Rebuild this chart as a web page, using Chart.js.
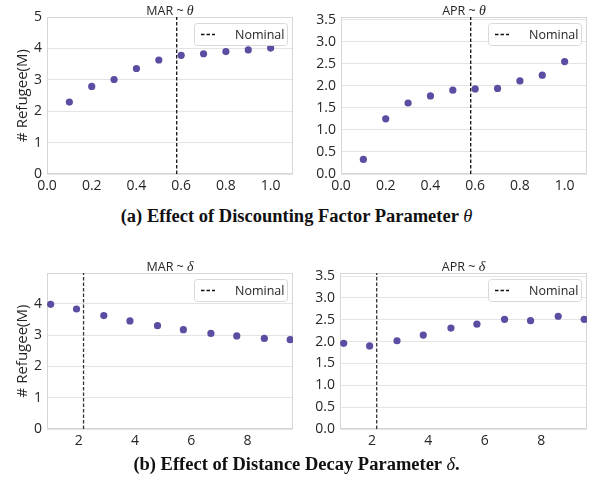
<!DOCTYPE html>
<html>
<head>
<meta charset="utf-8">
<script src="https://cdn.jsdelivr.net/npm/chart.js@4.4.1/dist/chart.umd.min.js"></script>
<style>
  html, body { margin: 0; padding: 0; background: #fff; }
  body { width: 593px; height: 485px; position: relative; overflow: hidden; }
  canvas { position: absolute; }
  .cap { position: absolute; left: 0; width: 593px; text-align: center;
         font-family: "Liberation Serif", serif; font-weight: bold; font-size: 18.5px;
         line-height: 1; color: #111; white-space: nowrap; }
  .cap i { font-weight: normal; }
</style>
</head>
<body>
<canvas id="c1"></canvas>
<canvas id="c2"></canvas>
<canvas id="c3"></canvas>
<canvas id="c4"></canvas>
<div class="cap" id="capA" style="top:207px">(a) Effect of Discounting Factor Parameter <i>θ</i></div>
<div class="cap" id="capB" style="top:455px">(b) Effect of Distance Decay Parameter <i>δ</i>.</div>
<script>
// ---- data ----
const thetaX = [0.1, 0.2, 0.3, 0.4, 0.5, 0.6, 0.7, 0.8, 0.9, 1.0];
const marTheta = [2.29, 2.79, 3.01, 3.36, 3.63, 3.78, 3.83, 3.90, 3.95, 4.01];
const aprTheta = [0.33, 1.25, 1.61, 1.77, 1.90, 1.93, 1.94, 2.11, 2.24, 2.55];
const deltaX = [1.0, 1.92, 2.89, 3.82, 4.8, 5.72, 6.7, 7.62, 8.6, 9.52];
const marDelta = [3.98, 3.83, 3.62, 3.45, 3.30, 3.17, 3.05, 2.97, 2.89, 2.85];
const aprDelta = [1.96, 1.90, 2.02, 2.15, 2.31, 2.40, 2.51, 2.48, 2.58, 2.51];
const thetaNominal = 0.58;
const deltaNominal = 2.17;

// tick values / labels
const thetaTicks = [0, 0.2, 0.4, 0.6, 0.8, 1.0];
const thetaTickLabels = ["0.0", "0.2", "0.4", "0.6", "0.8", "1.0"];
const deltaTicks = [2, 4, 6, 8];
const deltaTickLabels = ["2", "4", "6", "8"];
const marTicksA = [0, 1, 2, 3, 4, 5];
const marTickLabelsA = ["0", "1", "2", "3", "4", "5"];
const marTicksB = [0, 1, 2, 3, 4];
const marTickLabelsB = ["0", "1", "2", "3", "4"];
const aprTicks = [0, 0.5, 1.0, 1.5, 2.0, 2.5, 3.0, 3.5];
const aprTickLabels = ["0.0", "0.5", "1.0", "1.5", "2.0", "2.5", "3.0", "3.5"];

// axis limits
const thetaRange = [0, 1.1];
const deltaRange = [0.87, 9.62];
const marRangeA = [0, 5];
const aprRangeA = [0, 3.56];
const marRangeB = [0, 4.98];
const aprRangeB = [0, 3.57];

Chart.defaults.font.family = "'Open Sans', sans-serif";
Chart.defaults.color = '#262626';
Chart.defaults.animation = false;

const POINT = '#5a4ea2';
const GRID = '#e4e4e4';
const FRAME = '#d6d6d6';

const decorPlugin = {
  id: 'decor',
  beforeDatasetsDraw(chart) {
    const a = chart.chartArea, ctx = chart.ctx;
    ctx.save();
    ctx.strokeStyle = FRAME; ctx.lineWidth = 1;
    ctx.strokeRect(Math.round(a.left) + 0.5, Math.round(a.top) + 0.5,
                   Math.round(a.right - a.left) - 1, Math.round(a.bottom - a.top) - 1);
    ctx.restore();
  },
  afterDraw(chart, args, o) {
    const a = chart.chartArea, ctx = chart.ctx;
    ctx.save();
    // title
    ctx.textBaseline = 'alphabetic';
    const f1 = "12.5px 'Open Sans', sans-serif";
    const f2 = "italic 14px 'Liberation Serif', serif";
    ctx.font = f1; const w1 = ctx.measureText(o.title).width;
    ctx.font = f2; const w2 = ctx.measureText(o.sym).width;
    let x = (a.left + a.right) / 2 - (w1 + w2) / 2;
    const y = a.top - 2.5;
    ctx.fillStyle = '#262626';
    ctx.font = f1; ctx.fillText(o.title, x, y);
    ctx.font = f2; ctx.fillText(o.sym, x + w1, y);
    // legend
    const bw = 93, bh = 22;
    const bx = a.right - 6 - bw, by = a.top + 6;
    ctx.beginPath();
    if (ctx.roundRect) ctx.roundRect(bx + 0.5, by + 0.5, bw, bh, 3); else ctx.rect(bx + 0.5, by + 0.5, bw, bh);
    ctx.fillStyle = 'rgba(255,255,255,0.85)'; ctx.fill();
    ctx.strokeStyle = '#d9d9d9'; ctx.lineWidth = 1; ctx.stroke();
    ctx.beginPath();
    ctx.setLineDash([3.5, 2]);
    ctx.strokeStyle = '#111'; ctx.lineWidth = 1.3;
    ctx.moveTo(bx + 7, by + bh / 2 + 0.5); ctx.lineTo(bx + 21, by + bh / 2 + 0.5);
    ctx.stroke();
    ctx.setLineDash([]);
    ctx.fillStyle = '#262626';
    ctx.font = "12.5px 'Open Sans', sans-serif";
    ctx.textBaseline = 'middle';
    ctx.fillText('Nominal', bx + 41, by + bh / 2 + 1);
    ctx.restore();
  }
};

function makeChart(id, opts) {
  const cv = document.getElementById(id);
  cv.style.left = opts.left + 'px'; cv.style.top = opts.top + 'px';
  cv.width = opts.w; cv.height = opts.h;
  cv.style.width = opts.w + 'px'; cv.style.height = opts.h + 'px';
  const pts = opts.xs.map((x, i) => ({ x: x, y: opts.ys[i] }));
  return new Chart(cv, {
    type: 'scatter',
    data: {
      datasets: [
        { type: 'line', data: [{ x: opts.nominal, y: opts.yRange[0] }, { x: opts.nominal, y: opts.yRange[1] }],
          borderColor: opts.nomColor, borderWidth: 1.3, borderDash: [3.5, 2], pointRadius: 0, fill: false, order: 2 },
        { data: pts, backgroundColor: POINT, borderWidth: 0, pointRadius: 3.6, order: 1 }
      ]
    },
    options: {
      responsive: false,
      devicePixelRatio: 1,
      layout: { padding: { top: opts.padTop, right: opts.padRight, left: 0, bottom: 0 } },
      plugins: { legend: { display: false }, tooltip: { enabled: false },
                 decor: { title: opts.title, sym: opts.sym } },
      scales: {
        x: {
          type: 'linear', min: opts.xRange[0], max: opts.xRange[1],
          grid: { display: false, drawTicks: false },
          border: { display: false },
          afterBuildTicks: s => { s.ticks = opts.xTicks.map(v => ({ value: v })); },
          afterFit: s => { s.height = opts.xH; },
          ticks: { padding: 4, font: { size: 14 }, maxRotation: 0, autoSkip: false,
                   callback: (v, i) => opts.xLabels[i] }
        },
        y: {
          type: 'linear', min: opts.yRange[0], max: opts.yRange[1],
          grid: { color: GRID, lineWidth: 1, drawTicks: false },
          border: { display: false },
          afterBuildTicks: s => { s.ticks = opts.yTicks.map(v => ({ value: v })); },
          afterFit: s => { s.width = opts.yW; },
          ticks: { padding: 5, font: { size: 14 }, autoSkip: false,
                   callback: (v, i) => opts.yLabels[i] },
          title: { display: !!opts.yTitle, text: opts.yTitle, font: { size: 15 }, padding: { top: 14, bottom: 0 } }
        }
      }
    },
    plugins: [decorPlugin]
  });
}

makeChart('c1', { left: 0, top: 0, w: 297, h: 200, padTop: 17, padRight: 3, yW: 47, xH: 26,
  xs: thetaX, ys: marTheta, nominal: thetaNominal, nomColor: '#111',
  xRange: thetaRange, yRange: marRangeA, xTicks: thetaTicks, xLabels: thetaTickLabels,
  yTicks: marTicksA, yLabels: marTickLabelsA, yTitle: '# Refugee(M)', title: 'MAR ~ ', sym: 'θ' });
makeChart('c2', { left: 297, top: 0, w: 296, h: 200, padTop: 17, padRight: 6, yW: 44, xH: 26,
  xs: thetaX, ys: aprTheta, nominal: thetaNominal, nomColor: '#111',
  xRange: thetaRange, yRange: aprRangeA, xTicks: thetaTicks, xLabels: thetaTickLabels,
  yTicks: aprTicks, yLabels: aprTickLabels, yTitle: '', title: 'APR ~ ', sym: 'θ' });
makeChart('c3', { left: 0, top: 240, w: 297, h: 215, padTop: 33, padRight: 3, yW: 47, xH: 26,
  xs: deltaX, ys: marDelta, nominal: deltaNominal, nomColor: '#333',
  xRange: deltaRange, yRange: marRangeB, xTicks: deltaTicks, xLabels: deltaTickLabels,
  yTicks: marTicksB, yLabels: marTickLabelsB, yTitle: '# Refugee(M)', title: 'MAR ~ ', sym: 'δ' });
makeChart('c4', { left: 297, top: 240, w: 296, h: 215, padTop: 33, padRight: 6, yW: 43, xH: 26,
  xs: deltaX, ys: aprDelta, nominal: deltaNominal, nomColor: '#333',
  xRange: deltaRange, yRange: aprRangeB, xTicks: deltaTicks, xLabels: deltaTickLabels,
  yTicks: aprTicks, yLabels: aprTickLabels, yTitle: '', title: 'APR ~ ', sym: 'δ' });
</script>
</body>
</html>
